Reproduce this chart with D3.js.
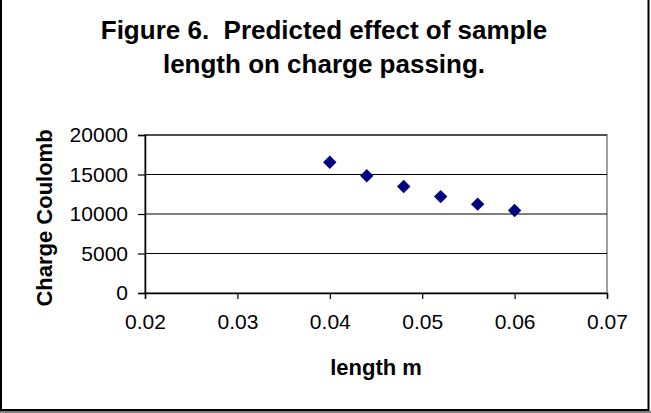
<!DOCTYPE html>
<html>
<head>
<meta charset="utf-8">
<script src="https://cdn.jsdelivr.net/npm/d3@7"></script>
<style>
  body { margin: 0; background: #fff; }
  text { font-family: Arial, "Liberation Sans", sans-serif; }
</style>
</head>
<body>
<div id="chart"></div>
<script>
// values
var lengths = [0.040, 0.044, 0.048, 0.052, 0.056, 0.060];
var charges = [16550, 14850, 13470, 12200, 11250, 10450];
var xTicks = [0.02, 0.03, 0.04, 0.05, 0.06, 0.07];
var yTicks = [0, 5000, 10000, 15000, 20000];
var titleLines = ['Figure 6.  Predicted effect of sample', 'length on charge passing.'];

var W = 651, H = 413;
var svg = d3.select('#chart').append('svg')
    .attr('width', W)
    .attr('height', H);

// outer frame
svg.append('rect').attr('x', 0).attr('y', 411).attr('width', W).attr('height', 2).attr('fill', '#808080');
svg.append('rect')
    .attr('x', 1).attr('y', -2)
    .attr('width', 647.5).attr('height', 412)
    .attr('fill', '#fff').attr('stroke', '#000').attr('stroke-width', 2);

var x = d3.scaleLinear().domain([0.02, 0.07]).range([145, 607]);
var y = d3.scaleLinear().domain([0, 20000]).range([293, 135]);

// plot area border (grey)
svg.append('rect')
    .attr('x', x(0.02)).attr('y', y(20000))
    .attr('width', x(0.07) - x(0.02)).attr('height', y(0) - y(20000))
    .attr('fill', 'none').attr('stroke', '#808080').attr('stroke-width', 1.5);

// gridlines
svg.selectAll('line.grid')
    .data(yTicks.filter(function(d){ return d > 0; }))
    .enter().append('line')
    .attr('class', 'grid')
    .attr('x1', x(0.02)).attr('x2', x(0.07))
    .attr('y1', function(d){ return y(d); })
    .attr('y2', function(d){ return y(d); })
    .attr('stroke', '#000').attr('stroke-width', 1);

var xAxis = svg.append('g')
    .attr('transform', 'translate(0,' + y(0) + ')')
    .call(d3.axisBottom(x).tickValues(xTicks).tickFormat(d3.format('.2f')).tickSize(6).tickPadding(15));

var yAxis = svg.append('g')
    .attr('transform', 'translate(' + x(0.02) + ',0)')
    .call(d3.axisLeft(y).tickValues(yTicks).tickFormat(d3.format('d')).tickSize(7).tickPadding(10));

[xAxis, yAxis].forEach(function(a){
    a.select('.domain').attr('stroke', '#000').attr('stroke-width', 1.5);
    a.selectAll('.tick line').attr('stroke', '#000').attr('stroke-width', 1.2);
    a.selectAll('.tick text')
        .attr('fill', '#000')
        .style('font-size', '21px')
        .style('font-family', 'Arial, "Liberation Sans", sans-serif');
});

// points
var diamond = d3.symbol().type(d3.symbolDiamond2).size(115);
svg.selectAll('path.pt')
    .data(lengths)
    .enter().append('path')
    .attr('class', 'pt')
    .attr('d', diamond)
    .attr('transform', function(d, i){ return 'translate(' + x(d) + ',' + y(charges[i]) + ')'; })
    .attr('fill', '#000080');

// title
svg.selectAll('text.title')
    .data(titleLines)
    .enter().append('text')
    .attr('class', 'title')
    .attr('x', 324)
    .attr('y', function(d, i){ return 39 + i * 34; })
    .attr('text-anchor', 'middle')
    .style('font-size', '26px')
    .style('font-weight', 'bold')
    .style('white-space', 'pre')
    .text(function(d){ return d; });

// axis titles
svg.append('text')
    .attr('x', (x(0.02) + x(0.07)) / 2)
    .attr('y', 375)
    .attr('text-anchor', 'middle')
    .style('font-size', '22px')
    .style('font-weight', 'bold')
    .text('length m');

svg.append('text')
    .attr('transform', 'translate(52,' + ((y(0) + y(20000)) / 2 + 4) + ') rotate(-90)')
    .attr('text-anchor', 'middle')
    .style('font-size', '22px')
    .style('font-weight', 'bold')
    .text('Charge Coulomb');
</script>
</body>
</html>
